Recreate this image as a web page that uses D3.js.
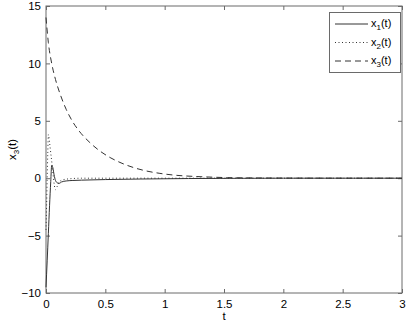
<!DOCTYPE html>
<html>
<head>
<meta charset="utf-8">
<script src="https://cdn.jsdelivr.net/npm/d3@7"></script>
<style>
  body { margin: 0; background: #fff; }
  svg { display: block; font-family: 'Liberation Sans', Arial, sans-serif; }
</style>
</head>
<body>
<svg id="chart" width="407" height="323"></svg>
<script>
// values
const xTicks = [0, 0.5, 1, 1.5, 2, 2.5, 3]
const yTicks = [-10, -5, 0, 5, 10, 15]

const t1 = [0, 0.01, 0.02, 0.03, 0.04, 0.048, 0.058, 0.068, 0.08, 0.095, 0.112, 0.13, 0.17, 0.22, 0.3, 0.5, 0.8, 1.2, 1.6, 2, 3]
const x1 = [-9.5, -7.2, -4.8, -2.4, -0.3, 1.1, 0.9, 0.3, -0.2, -0.4, -0.45, -0.33, -0.24, -0.2, -0.17, -0.12, -0.07, -0.03, -0.01, 0, 0]

const t2 = [0, 0.005, 0.01, 0.015, 0.02, 0.03, 0.04, 0.05, 0.06, 0.07, 0.08, 0.095, 0.11, 0.14, 0.2, 0.3, 0.5, 1, 3]
const x2 = [-4.5, -2.4, 0, 2.2, 3.8, 3.1, 2.2, 1.3, 0.3, -0.6, -1.0, -0.7, -0.35, -0.15, -0.05, 0, 0, 0, 0]

const t3 = [0, 0.02, 0.05, 0.08, 0.12, 0.17, 0.22, 0.28, 0.37, 0.45, 0.54, 0.64, 0.74, 0.85, 0.96, 1.1, 1.24, 1.4, 1.53, 1.8, 2.2, 3]
const x3 = [14, 11.8, 9.9, 8.6, 7.3, 6.0, 5.0, 4.1, 3.1, 2.4, 1.8, 1.3, 0.92, 0.62, 0.42, 0.25, 0.16, 0.09, 0.05, 0.02, 0.005, 0]

const seriesNames = ['1', '2', '3']
const dashes = ['none', '1,2.5', '6,4']

const svg = d3.select('#chart')
const mLeft = 46
const mRight = 402
const mTop = 6
const mBottom = 293

const x = d3.scaleLinear().domain([0, 3]).range([mLeft, mRight])
const y = d3.scaleLinear().domain([-10, 15]).range([mBottom, mTop])

const axisColor = '#6a6a6a'

// box
svg.append('rect')
  .attr('x', mLeft).attr('y', mTop)
  .attr('width', mRight - mLeft).attr('height', mBottom - mTop)
  .attr('fill', 'none').attr('stroke', axisColor)

function styleAxis (g) {
  g.select('.domain').remove()
  g.selectAll('.tick line').attr('stroke', axisColor)
  g.selectAll('.tick text').attr('fill', '#000').style('font-size', '11.5px')
}

svg.append('g')
  .attr('transform', `translate(0,${mBottom})`)
  .call(d3.axisBottom(x).tickValues(xTicks).tickSizeInner(-4).tickSizeOuter(0).tickPadding(7).tickFormat(d3.format('')))
  .call(styleAxis)

svg.append('g')
  .attr('transform', `translate(0,${mTop})`)
  .call(d3.axisTop(x).tickValues(xTicks).tickSizeInner(-4).tickSizeOuter(0).tickFormat(''))
  .call(styleAxis)

svg.append('g')
  .attr('transform', `translate(${mLeft},0)`)
  .call(d3.axisLeft(y).tickValues(yTicks).tickSizeInner(-4).tickSizeOuter(0).tickPadding(5))
  .call(styleAxis)

svg.append('g')
  .attr('transform', `translate(${mRight},0)`)
  .call(d3.axisRight(y).tickValues(yTicks).tickSizeInner(-4).tickSizeOuter(0).tickFormat(''))
  .call(styleAxis)

// lines
const line = d3.line()
  .x(d => x(d[0]))
  .y(d => y(d[1]))
  .curve(d3.curveMonotoneX)

const series = [
  d3.zip(t1, x1),
  d3.zip(t2, x2),
  d3.zip(t3, x3)
]

svg.append('g').selectAll('path')
  .data(series)
  .enter().append('path')
  .attr('d', line)
  .attr('fill', 'none')
  .attr('stroke', '#333')
  .attr('stroke-width', 1)
  .attr('stroke-dasharray', (d, i) => dashes[i])

// axis titles
svg.append('text')
  .attr('x', (mLeft + mRight) / 2)
  .attr('y', 320)
  .attr('text-anchor', 'middle')
  .style('font-size', '11.5px')
  .text('t')

const yl = svg.append('text')
  .attr('transform', `translate(16,${(mTop + mBottom) / 2}) rotate(-90)`)
  .attr('text-anchor', 'middle')
  .style('font-size', '11.5px')
yl.append('tspan').text('x')
yl.append('tspan').attr('dy', 3).style('font-size', '8px').text('3')
yl.append('tspan').attr('dy', -3).text('(t)')

// legend
const lg = svg.append('g')
lg.append('rect')
  .attr('x', 329.5).attr('y', 12.5)
  .attr('width', 71).attr('height', 60)
  .attr('fill', '#fff').attr('stroke', axisColor)

seriesNames.forEach((n, i) => {
  const ly = 24 + i * 18.5
  lg.append('line')
    .attr('x1', 335).attr('x2', 368)
    .attr('y1', ly).attr('y2', ly)
    .attr('stroke', '#333')
    .attr('stroke-dasharray', dashes[i])
  const tx = lg.append('text')
    .attr('x', 371).attr('y', ly + 3)
    .style('font-size', '11px')
  tx.append('tspan').text('x')
  tx.append('tspan').attr('dy', 3).style('font-size', '8px').text(n)
  tx.append('tspan').attr('dy', -3).text('(t)')
})
</script>
</body>
</html>
